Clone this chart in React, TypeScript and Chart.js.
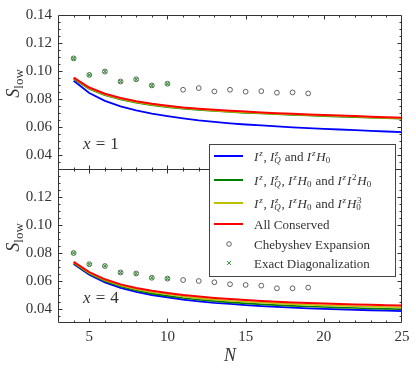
import React, { useEffect, useRef } from 'react';
import { Chart, registerables } from 'chart.js';

Chart.register(...registerables);

const SERIF = '"Liberation Serif", "DejaVu Serif", serif';
const INK = '#333333';

// ---------- data ----------
const lineN = [4, 5, 6, 7, 8, 9, 10, 11, 12, 13, 14, 15, 16, 17, 18, 19, 20, 21, 22, 23, 24, 25];
const markerN = [4, 5, 6, 7, 8, 9, 10, 11, 12, 13, 14, 15, 16, 17, 18, 19];
const edN = [4, 5, 6, 7, 8, 9, 10];

// panel x = 1
const topBlue = [0.0930, 0.0843, 0.0787, 0.0748, 0.0718, 0.0695, 0.0677, 0.0661, 0.0647, 0.0636, 0.0626, 0.0618, 0.0611, 0.0604, 0.0598, 0.0592, 0.0587, 0.0582, 0.0577, 0.0573, 0.0568, 0.0563];
const topGreen = [0.0942, 0.0871, 0.0827, 0.0797, 0.0774, 0.0756, 0.0742, 0.0731, 0.0722, 0.0714, 0.0707, 0.0701, 0.0696, 0.0691, 0.0686, 0.0682, 0.0678, 0.0674, 0.0670, 0.0666, 0.0662, 0.0659];
const topYellow = [0.0947, 0.0875, 0.0831, 0.0800, 0.0777, 0.0759, 0.0745, 0.0734, 0.0725, 0.0717, 0.0710, 0.0704, 0.0699, 0.0694, 0.0689, 0.0685, 0.0681, 0.0677, 0.0673, 0.0669, 0.0665, 0.0661];
const topRed = [0.0953, 0.0882, 0.0838, 0.0807, 0.0784, 0.0766, 0.0752, 0.0740, 0.0731, 0.0723, 0.0716, 0.0710, 0.0704, 0.0699, 0.0694, 0.0690, 0.0686, 0.0682, 0.0678, 0.0674, 0.0670, 0.0666];
const topCheb = [0.1090, 0.0972, 0.0996, 0.0925, 0.0941, 0.0897, 0.0909, 0.0866, 0.0878, 0.0854, 0.0866, 0.0852, 0.0856, 0.0845, 0.0847, 0.0840];
const topED = [0.1090, 0.0972, 0.0996, 0.0925, 0.0941, 0.0897, 0.0909];

// panel x = 4
const botBlue = [0.0721, 0.0645, 0.0590, 0.0551, 0.0522, 0.0500, 0.0484, 0.0467, 0.0455, 0.0444, 0.0436, 0.0428, 0.0421, 0.0415, 0.0410, 0.0405, 0.0401, 0.0397, 0.0394, 0.0391, 0.0388, 0.0385];
const botGreen = [0.0726, 0.0651, 0.0598, 0.0560, 0.0532, 0.0510, 0.0494, 0.0478, 0.0466, 0.0456, 0.0447, 0.0440, 0.0433, 0.0428, 0.0422, 0.0418, 0.0414, 0.0410, 0.0407, 0.0404, 0.0401, 0.0398];
const botYellow = [0.0731, 0.0657, 0.0605, 0.0568, 0.0541, 0.0520, 0.0505, 0.0489, 0.0478, 0.0467, 0.0459, 0.0452, 0.0446, 0.0440, 0.0435, 0.0430, 0.0426, 0.0423, 0.0420, 0.0417, 0.0414, 0.0412];
const botRed = [0.0736, 0.0663, 0.0612, 0.0576, 0.0550, 0.0530, 0.0515, 0.0500, 0.0489, 0.0479, 0.0471, 0.0464, 0.0458, 0.0452, 0.0447, 0.0443, 0.0439, 0.0436, 0.0433, 0.0430, 0.0427, 0.0425];
const botCheb = [0.0800, 0.0720, 0.0707, 0.0661, 0.0654, 0.0623, 0.0617, 0.0607, 0.0600, 0.0591, 0.0577, 0.0572, 0.0567, 0.0548, 0.0548, 0.0553];
const botED = [0.0800, 0.0720, 0.0707, 0.0661, 0.0654, 0.0623, 0.0617];

const xTickValues = [5, 10, 15, 20, 25];
const yTickTop = [0.04, 0.06, 0.08, 0.1, 0.12, 0.14];
const yTickBottom = [0.04, 0.06, 0.08, 0.1, 0.12];

const seriesLabels = [
  '$I^z$, $I^z_Q$ and $I^zH_0$',
  '$I^z$, $I^z_Q$, $I^zH_0$ and $I^zI^2H_0$',
  '$I^z$, $I^z_Q$, $I^zH_0$ and $I^zH^3_0$',
  'All Conserved',
  'Chebyshev Expansion',
  'Exact Diagonalization',
];
const panelLabels = ['$x = 1$', '$x = 4$'];
const yTitle = '$S_{low}$';
const xTitle = '$N$';

const BLUE = '#0000ff';
const GREEN = '#008000';
const YELLOW = '#bfbf00';
const RED = '#ff0000';
const GREY = '#505050';
const EDGREEN = '#3a9a3a';

// ---------- rich text ----------
type Item = { t: string; f: string; x: number; dy: number };
function buildRich(ctx: CanvasRenderingContext2D, src: string, size: number) {
  const items: Item[] = [];
  let x = 0;
  const mk = (it: boolean, s: number) => `${it ? 'italic ' : ''}${s}px ${SERIF}`;
  const put = (t: string, it: boolean, s: number, at: number, dy: number) => {
    const f = mk(it, s);
    ctx.font = f;
    const w = ctx.measureText(t).width;
    items.push({ t, f, x: at, dy });
    return w;
  };
  const segs = src.split('$');
  segs.forEach((seg, k) => {
    if (k % 2 === 0) {
      if (seg) x += put(seg, false, size, x, 0);
      return;
    }
    let sup: string | null = null;
    let sub: string | null = null;
    const flush = () => {
      const ss = Math.round(size * 0.7);
      let w = 0;
      if (sup !== null) w = Math.max(w, put(sup, sup.length === 1 && /[A-Za-z]/.test(sup), ss, x + 0.8, -size * 0.38) + 0.8);
      if (sub !== null) w = Math.max(w, put(sub, sub.length === 1 && /[A-Za-z]/.test(sub), ss, x, size * 0.22));
      x += w + (w ? 0.8 : 0);
      sup = null;
      sub = null;
    };
    let i = 0;
    while (i < seg.length) {
      const c = seg[i];
      if (c === '^' || c === '_') {
        let arg = '';
        if (seg[i + 1] === '{') {
          const j = seg.indexOf('}', i + 2);
          arg = seg.slice(i + 2, j);
          i = j + 1;
        } else {
          arg = seg[i + 1];
          i += 2;
        }
        if (c === '^') sup = arg;
        else sub = arg;
        continue;
      }
      flush();
      if (c === ' ') x += size * 0.3;
      else x += put(c, /[A-Za-z]/.test(c), size, x, 0);
      i++;
    }
    flush();
  });
  return { items, width: x };
}

function drawRich(ctx: CanvasRenderingContext2D, src: string, size: number, x0: number, y0: number, align: 'left' | 'center') {
  const { items, width } = buildRich(ctx, src, size);
  const ox = align === 'center' ? x0 - width / 2 : x0;
  ctx.textAlign = 'left';
  ctx.textBaseline = 'alphabetic';
  for (const it of items) {
    ctx.font = it.f;
    ctx.fillText(it.t, ox + it.x, y0 + it.dy);
  }
}

// ---------- plugin: frames, inward ticks, annotations, legend ----------
const decorPlugin = {
  id: 'decor',
  afterDatasetsDraw(chart: any) {
    const ctx: CanvasRenderingContext2D = chart.ctx;
    const xs = chart.scales.x;
    const panels = [chart.scales.yTop, chart.scales.yBot];
    ctx.save();
    ctx.strokeStyle = INK;
    ctx.lineWidth = 1;
    const L = Math.round(xs.left) + 0.5;
    const R = Math.round(xs.right) - 0.5;
    panels.forEach((ys: any, p: number) => {
      const T = Math.round(ys.top) + 0.5;
      const B = Math.round(ys.bottom) - 0.5 + (p === 0 ? 1 : 0);
      ctx.strokeStyle = INK;
      ctx.lineWidth = 1;
      ctx.beginPath();
      ctx.rect(L, T, R - L, B - T);
      ctx.stroke();
      ctx.beginPath();
      const majors = p === 0 ? yTickTop : yTickBottom;
      for (let k = 7; k <= 28; k++) {
        const v = k * 0.005;
        const isMajor = majors.some((m) => Math.abs(m - v) < 1e-9);
        const len = isMajor ? 4 : 2;
        const py = Math.round(ys.getPixelForValue(v)) + 0.5;
        if (py < T + 1 || py > B - 1) continue;
        ctx.moveTo(L, py); ctx.lineTo(L + len, py);
        ctx.moveTo(R, py); ctx.lineTo(R - len, py);
      }
      for (let n = 4; n <= 24; n++) {
        const isMajor = xTickValues.includes(n);
        const len = isMajor ? 4 : 2;
        const px = Math.round(xs.getPixelForValue(n)) + 0.5;
        ctx.moveTo(px, T); ctx.lineTo(px, T + len);
        ctx.moveTo(px, B); ctx.lineTo(px, B - len);
      }
      ctx.stroke();

      // panel annotation
      ctx.fillStyle = INK;
      drawRich(ctx, panelLabels[p], 17, 83, ys.bottom - 20, 'left');

      // y title
      ctx.save();
      ctx.translate(19, (ys.top + ys.bottom) / 2 - 9);
      ctx.rotate(-Math.PI / 2);
      drawRich(ctx, yTitle, 18, 0, 0, 'center');
      ctx.restore();
    });

    // x title
    ctx.fillStyle = INK;
    drawRich(ctx, xTitle, 18, (xs.left + xs.right) / 2, 361, 'center');

    // legend
    const bx = 209.5, by = 144.5, bw = 186, bh = 132;
    ctx.fillStyle = '#ffffff';
    ctx.fillRect(bx, by, bw, bh);
    ctx.strokeStyle = '#444444';
    ctx.lineWidth = 1;
    ctx.strokeRect(bx, by, bw, bh);
    const rows = [156, 180, 203, 224, 244, 263];
    const lineColors = [BLUE, GREEN, YELLOW, RED];
    rows.forEach((ry, i) => {
      if (i < 4) {
        ctx.strokeStyle = lineColors[i];
        ctx.lineWidth = 2;
        ctx.beginPath();
        ctx.moveTo(214, ry); ctx.lineTo(243, ry);
        ctx.stroke();
      } else if (i === 4) {
        ctx.strokeStyle = GREY;
        ctx.lineWidth = 0.9;
        ctx.beginPath();
        ctx.arc(229, ry, 2.3, 0, Math.PI * 2);
        ctx.stroke();
      } else {
        ctx.strokeStyle = EDGREEN;
        ctx.lineWidth = 1;
        ctx.beginPath();
        ctx.moveTo(227, ry - 2); ctx.lineTo(231, ry + 2);
        ctx.moveTo(227, ry + 2); ctx.lineTo(231, ry - 2);
        ctx.stroke();
      }
      ctx.fillStyle = INK;
      drawRich(ctx, seriesLabels[i], 13, 254, ry + 4.5, 'left');
    });
    ctx.restore();
  },
};

function pts(xsArr: number[], ysArr: number[]) {
  return xsArr.map((n, i) => ({ x: n, y: ysArr[i] }));
}

function lineDs(data: number[], color: string, width: number, axis: string) {
  return {
    data: pts(lineN, data),
    borderColor: color,
    borderWidth: width,
    pointRadius: 0,
    tension: 0,
    fill: false,
    yAxisID: axis,
  };
}

function chebDs(data: number[], axis: string) {
  return {
    data: pts(markerN, data),
    showLine: false,
    pointStyle: 'circle',
    pointRadius: 2.4,
    pointBorderWidth: 0.9,
    borderColor: GREY,
    pointBorderColor: GREY,
    pointBackgroundColor: 'rgba(0,0,0,0)',
    yAxisID: axis,
  };
}

function edDs(data: number[], axis: string) {
  return {
    data: pts(edN, data),
    showLine: false,
    pointStyle: 'crossRot',
    pointRadius: 2.6,
    pointBorderWidth: 1.1,
    borderColor: EDGREEN,
    pointBorderColor: EDGREEN,
    yAxisID: axis,
  };
}

function yScale(ticks: number[]) {
  return {
    type: 'linear',
    position: 'left',
    stack: 'panels',
    stackWeight: 1,
    min: 0.03,
    max: 0.14,
    grid: { display: false, drawTicks: false },
    border: { display: false },
    afterBuildTicks: (s: any) => {
      s.ticks = ticks.map((v) => ({ value: v }));
    },
    afterFit: (s: any) => {
      s.width = 58;
    },
    ticks: {
      autoSkip: false,
      padding: 6,
      color: INK,
      font: { family: SERIF, size: 15 },
      callback: (v: any) => Number(v).toFixed(2),
    },
  };
}

export default function App() {
  const ref = useRef<HTMLCanvasElement | null>(null);
  useEffect(() => {
    if (!ref.current) return;
    const chart = new Chart(ref.current, {
      type: 'line',
      data: {
        datasets: [
          edDs(topED, 'yTop'),
          chebDs(topCheb, 'yTop'),
          edDs(botED, 'yBot'),
          chebDs(botCheb, 'yBot'),
          lineDs(topRed, RED, 2, 'yTop'),
          lineDs(topYellow, YELLOW, 1.6, 'yTop'),
          lineDs(topGreen, GREEN, 1.6, 'yTop'),
          lineDs(topBlue, BLUE, 1.8, 'yTop'),
          lineDs(botRed, RED, 2, 'yBot'),
          lineDs(botYellow, YELLOW, 1.6, 'yBot'),
          lineDs(botGreen, GREEN, 1.6, 'yBot'),
          lineDs(botBlue, BLUE, 1.8, 'yBot'),
        ] as any,
      },
      options: {
        animation: false,
        responsive: false,
        maintainAspectRatio: false,
        layout: { padding: { top: 13, right: 14, left: 0, bottom: 0 } },
        plugins: { legend: { display: false }, tooltip: { enabled: false } },
        scales: {
          x: {
            type: 'linear',
            min: 3,
            max: 25,
            grid: { display: false, drawTicks: false },
            border: { display: false },
            afterBuildTicks: (s: any) => {
              s.ticks = xTickValues.map((v) => ({ value: v }));
            },
            afterFit: (s: any) => {
              s.height = 46;
            },
            ticks: {
              autoSkip: false,
              maxRotation: 0,
              padding: 5,
              color: INK,
              font: { family: SERIF, size: 15 },
            },
          },
          // stacked axes are laid out bottom-first
          yBot: yScale(yTickBottom),
          yTop: yScale(yTickTop),
        } as any,
      },
      plugins: [decorPlugin as any],
    });
    return () => chart.destroy();
  }, []);
  return (
    <div style={{ position: 'absolute', left: 0, top: 0, width: 416, height: 369, background: '#fff' }}>
      <canvas ref={ref} width={416} height={369} style={{ display: 'block' }} />
    </div>
  );
}
